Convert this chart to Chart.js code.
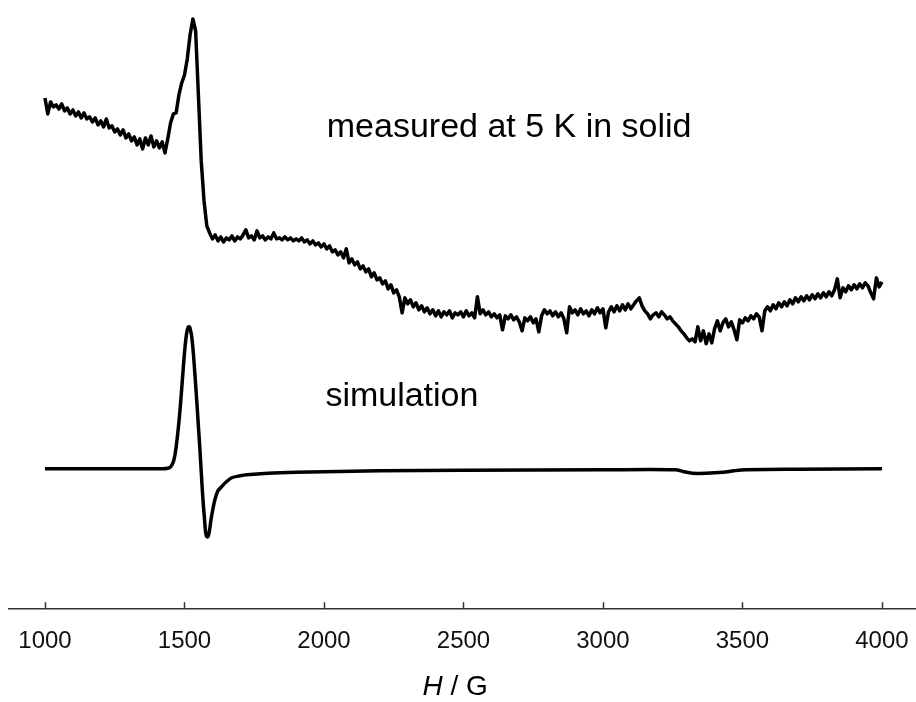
<!DOCTYPE html>
<html>
<head>
<meta charset="utf-8">
<script src="https://cdn.jsdelivr.net/npm/chart.js@4"></script>
<style>
  html, body { margin: 0; padding: 0; background: #fff; }
  #wrap { width: 916px; height: 702px; position: relative; }
</style>
</head>
<body>
<div id="wrap"><canvas id="canvas"></canvas></div>
<script>
// field axis, G
const fieldStart = 1000;
const fieldStep = 10;
const tickValues = [1000, 1500, 2000, 2500, 3000, 3500, 4000];

// measured spectrum at 5 K (arbitrary units), one value every 10 G from 1000 G
const measured = [
  37.1, 35.5, 36.7, 36.2, 36.4, 36.0, 36.5, 35.8, 36.1, 35.5,
  35.9, 35.3, 35.7, 35.1, 35.6, 35.0, 35.2, 34.7, 35.1, 34.4,
  34.8, 34.2, 35.0, 34.1, 34.3, 33.7, 34.0, 33.4, 33.9, 33.1,
  33.5, 32.8, 33.2, 32.4, 33.0, 32.0, 33.1, 32.4, 33.3, 32.2,
  32.8, 32.1, 32.7, 31.6, 33.0, 34.6, 35.5, 35.6, 37.4, 38.6,
  39.4, 41.0, 43.4, 45.0, 43.8, 37.3, 30.8, 26.8, 24.3, 23.6,
  23.0, 23.4, 22.8, 23.2, 22.7, 23.1, 22.9, 23.3, 22.8, 23.2,
  23.0, 23.4, 23.9, 23.1, 23.3, 22.9, 23.8, 23.1, 23.3, 22.9,
  23.2, 23.0, 23.6, 23.0, 23.1, 22.9, 23.2, 22.9, 23.1, 22.8,
  23.0, 22.8, 23.1, 22.7, 22.9, 22.5, 22.8, 22.4, 22.6, 22.2,
  22.5, 22.0, 22.3, 21.7, 21.9, 21.4, 21.7, 21.1, 22.0, 20.6,
  21.0, 20.4, 20.7, 20.0, 20.3, 19.7, 20.0, 19.2, 19.6, 18.9,
  19.1, 18.5, 18.8, 18.0, 18.4, 17.6, 17.9, 17.2, 15.6, 17.1,
  16.5, 16.9, 16.2, 16.6, 15.9, 16.3, 15.7, 16.1, 15.5, 15.9,
  15.3, 15.8, 15.2, 15.7, 15.4, 15.8, 15.1, 15.6, 15.4, 15.7,
  15.2, 15.8, 15.3, 15.6, 15.1, 17.2, 15.5, 15.9, 15.4, 15.7,
  15.2, 15.5, 15.1, 15.4, 13.9, 15.3, 15.0, 15.4, 14.9, 15.2,
  14.7, 13.8, 15.1, 14.8, 15.2, 14.6, 15.0, 13.7, 15.3, 15.9,
  15.5, 15.8, 15.3, 15.7, 15.2, 15.6, 15.0, 13.6, 16.2, 15.6,
  15.9, 15.4, 16.0, 15.5, 15.8, 15.3, 15.9, 15.5, 16.1, 15.6,
  16.0, 14.1, 15.7, 16.2, 15.7, 16.3, 15.8, 16.4, 15.9, 16.5,
  16.0, 16.4, 16.8, 17.1, 16.3, 15.8, 15.5, 15.0, 15.4, 15.6,
  15.2, 15.7, 15.4, 15.0, 15.2, 14.8, 14.5, 14.2, 13.8, 13.5,
  13.1, 12.8, 13.0, 12.7, 14.2, 12.8, 13.8, 12.5, 13.5, 12.6,
  14.0, 14.8, 13.8, 14.6, 15.0, 14.2, 14.7, 13.9, 12.9, 14.9,
  14.6, 15.1, 14.8, 15.3, 15.0, 15.5, 15.2, 13.8, 15.8, 16.2,
  15.8, 16.4, 16.0, 16.6, 16.2, 16.7, 16.3, 16.9, 16.5, 17.1,
  16.7, 17.2, 16.8, 17.3, 16.9, 17.4, 17.0, 17.5, 17.1, 17.6,
  17.2, 17.7, 17.3, 17.9, 19.0, 17.1, 18.1, 17.7, 18.3, 17.9,
  18.4, 18.0, 18.5, 18.1, 18.6, 18.3, 17.6, 17.0, 19.1, 18.2,
  18.7
];

// simulated spectrum (arbitrary units): field in G and signal
const simField = [
  1000, 1420, 1440, 1450, 1460, 1466, 1472, 1478, 1484, 1490,
  1496, 1502, 1508, 1514, 1518, 1522, 1526, 1532, 1538, 1544,
  1550, 1555, 1559, 1563, 1567, 1572, 1576, 1580, 1584, 1589,
  1595, 1602, 1609, 1620, 1633, 1650, 1669, 1700, 1723, 1800,
  1900, 2000, 2200, 2500, 3000, 3260, 3290, 3320, 3370, 3430,
  3470, 3510, 3700, 4000
];
const simSignal = [
  0, 0, 0.05, 0.2, 0.7, 1.4, 2.6, 4.1, 5.9, 8.0,
  10.2, 12.2, 13.6, 14.2, 14.2, 13.8, 13.2, 11.5, 9.2, 6.8,
  4.2, 2.1, 0.2, -1.7, -3.4, -5.1, -6.4, -6.8, -6.8, -6.3,
  -5.1, -4.0, -3.1, -2.2, -1.8, -1.3, -0.9, -0.7, -0.6, -0.45,
  -0.35, -0.3, -0.2, -0.15, -0.1, -0.1, -0.3, -0.45, -0.45, -0.35,
  -0.2, -0.1, -0.05, 0
];

// text labels placed in data units
const noteTexts = ['measured at 5 K in solid', 'simulation'];
const noteField = [2010, 2005];
const noteSignal = [33.2, 6.3];

const measuredPoints = measured.map((v, i) => ({ x: fieldStart + i * fieldStep, y: v }));
const simPoints = simField.map((h, i) => ({ x: h, y: simSignal[i] }));

const FONT = '"Liberation Sans", Arial, Helvetica, sans-serif';
const AXIS_COLOR = '#333';

const notesPlugin = {
  id: 'notes',
  afterDraw(chart) {
    const { ctx, scales } = chart;
    const xs = scales.x, ys = scales.y;
    ctx.save();
    // inward tick marks
    ctx.strokeStyle = AXIS_COLOR;
    ctx.lineWidth = 1.5;
    const yb = chart.chartArea.bottom;
    xs.ticks.forEach(t => {
      const px = Math.round(xs.getPixelForValue(t.value)) + 0.5;
      ctx.beginPath();
      ctx.moveTo(px, yb);
      ctx.lineTo(px, yb - 7);
      ctx.stroke();
    });
    // annotations
    ctx.fillStyle = '#000';
    ctx.font = '34px ' + FONT;
    ctx.textBaseline = 'alphabetic';
    ctx.textAlign = 'left';
    noteTexts.forEach((txt, i) => {
      ctx.fillText(txt, xs.getPixelForValue(noteField[i]), ys.getPixelForValue(noteSignal[i]));
    });
    // axis title: italic H / G
    const cx = xs.getPixelForValue(2470);
    const by = chart.height - 7;
    ctx.font = 'italic 28px ' + FONT;
    const w1 = ctx.measureText('H').width;
    ctx.font = '28px ' + FONT;
    const w2 = ctx.measureText(' / G').width;
    let x0 = cx - (w1 + w2) / 2;
    ctx.font = 'italic 28px ' + FONT;
    ctx.fillText('H', x0, by);
    ctx.font = '28px ' + FONT;
    ctx.fillText(' / G', x0 + w1, by);
    ctx.restore();
  }
};

const chart = new Chart(document.getElementById('canvas'), {
  type: 'scatter',
  data: {
    datasets: [
      {
        label: 'measured',
        data: measuredPoints,
        showLine: true,
        borderColor: '#000',
        borderWidth: 3.5,
        borderJoinStyle: 'round',
        pointRadius: 0,
        tension: 0
      },
      {
        label: 'simulation',
        data: simPoints,
        showLine: true,
        borderColor: '#000',
        borderWidth: 3.5,
        borderJoinStyle: 'round',
        pointRadius: 0,
        tension: 0.3
      }
    ]
  },
  options: {
    responsive: true,
    maintainAspectRatio: false,
    animation: false,
    layout: { padding: { left: 9, right: 0, top: 0, bottom: 46 } },
    plugins: {
      legend: { display: false },
      tooltip: { enabled: false }
    },
    scales: {
      x: {
        type: 'linear',
        position: 'bottom',
        min: 871,
        max: 4122,
        afterBuildTicks: axis => { axis.ticks = tickValues.map(v => ({ value: v })); },
        grid: { display: true, drawOnChartArea: false, drawTicks: true, tickLength: 18, color: 'rgba(0,0,0,0)' },
        border: { display: true, color: AXIS_COLOR, width: 1.5 },
        ticks: {
          color: '#111',
          font: { family: FONT, size: 24 },
          padding: 0,
          maxRotation: 0,
          autoSkip: false,
          callback: v => String(v)
        }
      },
      y: {
        display: false,
        min: -14.05,
        max: 46.9
      }
    }
  },
  plugins: [notesPlugin]
});
</script>
</body>
</html>
